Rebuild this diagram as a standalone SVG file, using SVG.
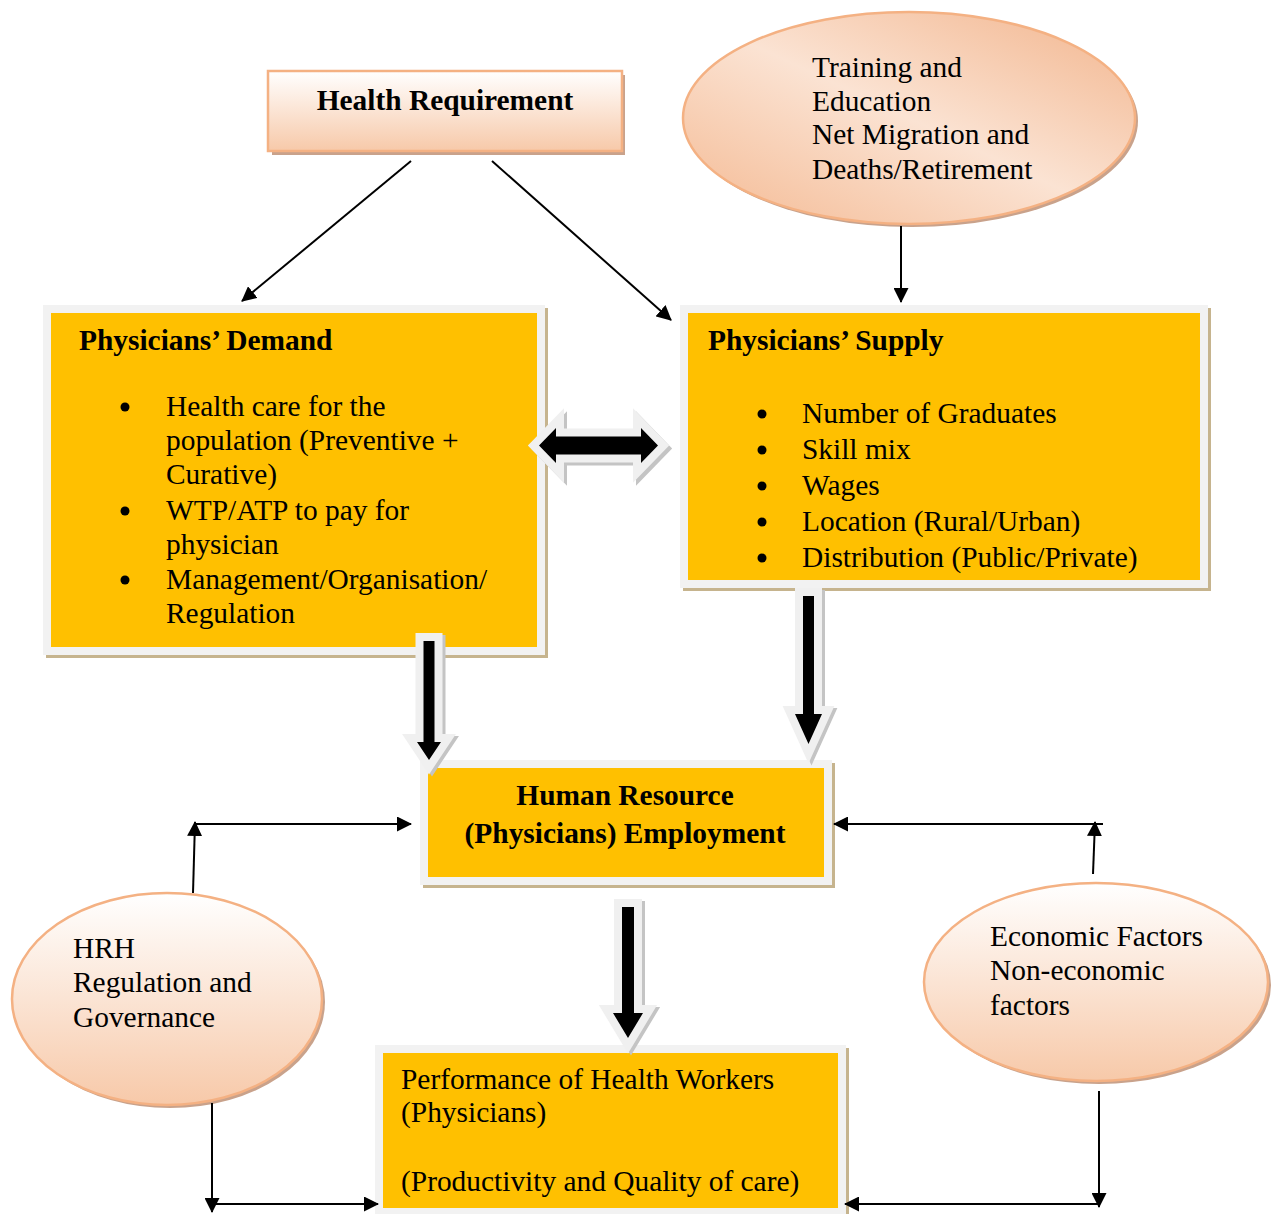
<svg xmlns="http://www.w3.org/2000/svg" width="1277" height="1214" viewBox="0 0 1277 1214">
  <defs>
    <linearGradient id="peachV" x1="0" y1="0" x2="0" y2="1">
      <stop offset="0" stop-color="#FFFFFF"/>
      <stop offset="1" stop-color="#F7C9A9"/>
    </linearGradient>
    <linearGradient id="peachD" x1="0" y1="1" x2="1" y2="0">
      <stop offset="0" stop-color="#F4B992"/>
      <stop offset="0.5" stop-color="#FBE3D3"/>
      <stop offset="1" stop-color="#F2B48C"/>
    </linearGradient>
    <marker id="arr" viewBox="0 0 15 15" refX="14" refY="7.5" markerWidth="15" markerHeight="15" markerUnits="userSpaceOnUse" orient="auto">
      <path d="M0,0 L15,7.5 L0,15 z" fill="#000"/>
    </marker>
    <style>
      text { font-family: "Liberation Serif", "Times New Roman", serif; font-size: 29.4px; fill: #000; }
      .b { font-weight: bold; }
      .frame { fill: #F2F2F2; }
      .core { fill: #FFC000; }
      .tan { fill: #C6B48E; }
      .oval { stroke: #F4B183; stroke-width: 2.5; }
      .ovalShadow { fill: #C9A28B; }
      .conn { stroke: #000; stroke-width: 2; fill: none; }
      .blk { fill: #000; stroke: #F0F0F0; stroke-width: 16; stroke-linejoin: miter; paint-order: stroke; }
      .blkShadow { fill: #C4C4C4; stroke: #C4C4C4; stroke-width: 16; stroke-linejoin: miter; }
    </style>
  </defs>

  <rect width="1277" height="1214" fill="#FFFFFF"/>

  <!-- Health Requirement -->
  <g id="health-requirement">
    <rect x="272" y="75" width="353" height="80" fill="#C9A28B"/>
    <rect x="268" y="71" width="354" height="80" fill="url(#peachV)" stroke="#F4B183" stroke-width="2.5"/>
    <text x="445" y="110" text-anchor="middle" class="b">Health Requirement</text>
  </g>

  <!-- Training and Education ellipse -->
  <g id="training-education">
    <ellipse cx="912" cy="121" rx="226" ry="106" class="ovalShadow"/>
    <ellipse cx="909" cy="118" rx="226" ry="106" fill="url(#peachD)" class="oval"/>
    <text x="812" y="77">Training and</text>
    <text x="812" y="111">Education</text>
    <text x="812" y="144">Net Migration and</text>
    <text x="812" y="179">Deaths/Retirement</text>
  </g>

  <!-- Physicians' Demand -->
  <g id="physicians-demand">
    <rect x="46" y="308" width="502" height="350" class="tan"/>
    <rect x="43" y="305" width="502" height="350" class="frame"/>
    <rect x="51" y="313" width="486" height="334" class="core"/>
    <text x="79" y="350" class="b">Physicians’ Demand</text>
    <circle cx="125" cy="407" r="4.5"/>
    <circle cx="125" cy="511" r="4.5"/>
    <circle cx="125" cy="580" r="4.5"/>
    <text x="166" y="416">Health care for the</text>
    <text x="166" y="450">population (Preventive +</text>
    <text x="166" y="484">Curative)</text>
    <text x="166" y="520">WTP/ATP to pay for</text>
    <text x="166" y="554">physician</text>
    <text x="166" y="589">Management/Organisation/</text>
    <text x="166" y="623">Regulation</text>
  </g>

  <!-- Physicians' Supply -->
  <g id="physicians-supply">
    <rect x="683" y="308" width="528" height="283" class="tan"/>
    <rect x="680" y="305" width="528" height="283" class="frame"/>
    <rect x="688" y="313" width="512" height="267" class="core"/>
    <text x="708" y="350" class="b">Physicians’ Supply</text>
    <circle cx="762" cy="414" r="4.5"/>
    <circle cx="762" cy="450" r="4.5"/>
    <circle cx="762" cy="486" r="4.5"/>
    <circle cx="762" cy="522" r="4.5"/>
    <circle cx="762" cy="558" r="4.5"/>
    <text x="802" y="423">Number of Graduates</text>
    <text x="802" y="459">Skill mix</text>
    <text x="802" y="495">Wages</text>
    <text x="802" y="531">Location (Rural/Urban)</text>
    <text x="802" y="567">Distribution (Public/Private)</text>
  </g>

  <!-- Human Resource (Physicians) Employment -->
  <g id="hr-employment">
    <rect x="423" y="763" width="412" height="125" class="tan"/>
    <rect x="420" y="760" width="412" height="125" class="frame"/>
    <rect x="428" y="768" width="396" height="109" class="core"/>
    <text x="625" y="805" text-anchor="middle" class="b">Human Resource</text>
    <text x="625" y="843" text-anchor="middle" class="b">(Physicians) Employment</text>
  </g>

  <!-- HRH Regulation and Governance ellipse -->
  <g id="hrh-governance">
    <ellipse cx="170" cy="1002" rx="155" ry="106" class="ovalShadow"/>
    <ellipse cx="167" cy="999" rx="155" ry="106" fill="url(#peachV)" class="oval"/>
    <text x="73" y="958">HRH</text>
    <text x="73" y="992">Regulation and</text>
    <text x="73" y="1027">Governance</text>
  </g>

  <!-- Economic factors ellipse -->
  <g id="economic-factors">
    <ellipse cx="1099" cy="985" rx="172" ry="99" class="ovalShadow"/>
    <ellipse cx="1096" cy="982" rx="172" ry="99" fill="url(#peachV)" class="oval"/>
    <text x="990" y="946">Economic Factors</text>
    <text x="990" y="980">Non-economic</text>
    <text x="990" y="1015">factors</text>
  </g>

  <!-- Performance of Health Workers -->
  <g id="performance">
    <rect x="378" y="1048" width="471" height="175" class="tan"/>
    <rect x="375" y="1045" width="471" height="175" class="frame"/>
    <rect x="383" y="1053" width="455" height="155" class="core"/>
    <text x="401" y="1089">Performance of Health Workers</text>
    <text x="401" y="1122">(Physicians)</text>
    <text x="401" y="1191">(Productivity and Quality of care)</text>
  </g>

  <!-- Connectors -->
  <g id="connectors">
    <!-- thin arrows -->
    <line class="conn" x1="411" y1="161" x2="242" y2="301" marker-end="url(#arr)"/>
    <line class="conn" x1="492" y1="161" x2="671" y2="320" marker-end="url(#arr)"/>
    <line class="conn" x1="901" y1="226" x2="901" y2="302" marker-end="url(#arr)"/>
    <line class="conn" x1="193" y1="893" x2="195" y2="822" marker-end="url(#arr)"/>
    <line class="conn" x1="195" y1="824" x2="411" y2="824" marker-end="url(#arr)"/>
    <line class="conn" x1="212" y1="1103" x2="212" y2="1212" marker-end="url(#arr)"/>
    <line class="conn" x1="212" y1="1204" x2="378" y2="1204" marker-end="url(#arr)"/>
    <line class="conn" x1="1093" y1="874" x2="1095" y2="822" marker-end="url(#arr)"/>
    <line class="conn" x1="1103" y1="824" x2="834" y2="824" marker-end="url(#arr)"/>
    <line class="conn" x1="1099" y1="1091" x2="1099" y2="1207" marker-end="url(#arr)"/>
    <line class="conn" x1="1099" y1="1204" x2="845" y2="1204" marker-end="url(#arr)"/>

    <!-- block arrows -->
    <g id="demand-supply-link">
      <path class="blkShadow" transform="translate(3,3)" d="M539,445.5 L556,428 L556,436.5 L641,436.5 L641,428 L658,445.5 L641,463 L641,454.5 L556,454.5 L556,463 Z"/>
      <path class="blk" d="M539,445.5 L556,428 L556,436.5 L641,436.5 L641,428 L658,445.5 L641,463 L641,454.5 L556,454.5 L556,463 Z"/>
    </g>
    <g id="demand-to-hr">
      <path class="blkShadow" transform="translate(3,2)" d="M423.5,641 L434.5,641 L434.5,742 L441,742 L429,760 L417,742 L423.5,742 Z"/>
      <path class="blk" d="M423.5,641 L434.5,641 L434.5,742 L441,742 L429,760 L417,742 L423.5,742 Z"/>
    </g>
    <g id="supply-to-hr">
      <path class="blkShadow" transform="translate(3,2)" d="M803,596 L814,596 L814,714 L822,714 L808.5,744 L795,714 L803,714 Z"/>
      <path class="blk" d="M803,596 L814,596 L814,714 L822,714 L808.5,744 L795,714 L803,714 Z"/>
    </g>
    <g id="hr-to-performance">
      <path class="blkShadow" transform="translate(3,2)" d="M622,907 L634,907 L634,1013 L643,1013 L628,1038 L613,1013 L622,1013 Z"/>
      <path class="blk" d="M622,907 L634,907 L634,1013 L643,1013 L628,1038 L613,1013 L622,1013 Z"/>
    </g>
  </g>
</svg>
